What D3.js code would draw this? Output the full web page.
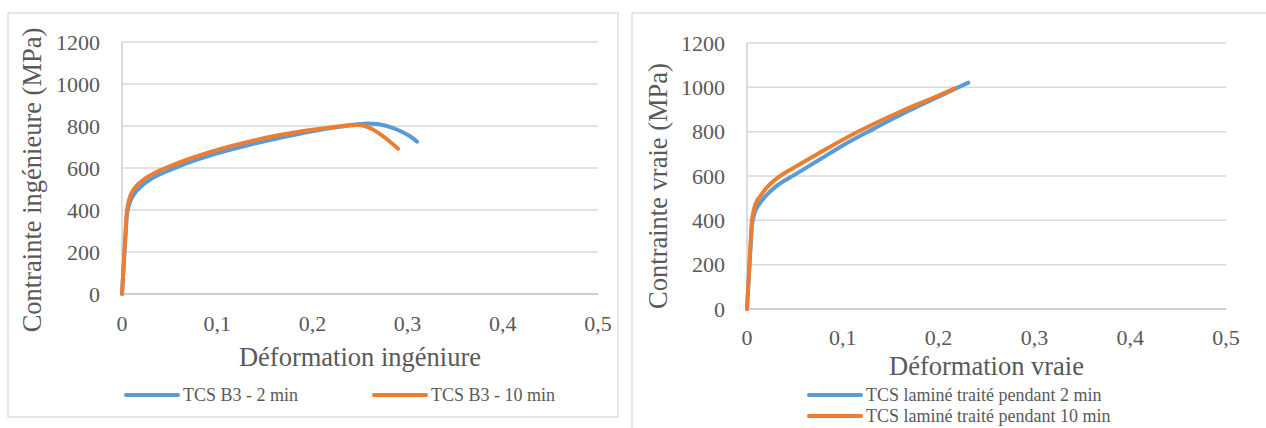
<!DOCTYPE html>
<html><head><meta charset="utf-8">
<script src="https://cdn.jsdelivr.net/npm/d3@7"></script>
<style>
html,body{margin:0;padding:0;background:#fff;}
svg{display:block;}
svg text{font-family:"Liberation Serif","Times New Roman",serif;}
</style></head>
<body>
<svg id="c" width="1266" height="428"></svg>
<script>
// ---- Data ----
const xTicks = [0, 0.1, 0.2, 0.3, 0.4, 0.5];
const yTicks = [0, 200, 400, 600, 800, 1000, 1200];

// Left chart: engineering stress-strain
const engStrain2 = [0, 0.002, 0.004, 0.005, 0.0065, 0.009, 0.0135, 0.02, 0.03, 0.04, 0.05, 0.075, 0.1, 0.13, 0.16, 0.2, 0.23, 0.25, 0.258, 0.27, 0.285, 0.295, 0.303, 0.31];
const engStress2 = [0, 150, 300, 370, 410, 445, 480, 512, 546, 570, 590, 634, 670, 706, 738, 775, 797, 809, 812, 808, 790, 770, 750, 725];
const engStrain10 = [0, 0.002, 0.004, 0.005, 0.0065, 0.009, 0.0135, 0.02, 0.03, 0.04, 0.05, 0.075, 0.1, 0.13, 0.16, 0.2, 0.23, 0.247, 0.255, 0.263, 0.27, 0.278, 0.285, 0.29];
const engStress10 = [0, 160, 320, 385, 430, 470, 505, 535, 566, 589, 608, 650, 686, 722, 752, 782, 799, 805, 800, 785, 765, 738, 712, 692];

// Right chart: true stress-strain
const trueStrain2 = [0, 0.002, 0.004, 0.005, 0.0065, 0.009, 0.0135, 0.02, 0.03, 0.05, 0.075, 0.1, 0.13, 0.16, 0.2, 0.231];
const trueStress2 = [0, 150, 300, 370, 410, 445, 478, 512, 552, 606, 672, 738, 808, 875, 958, 1021];
const trueStrain10 = [0, 0.002, 0.004, 0.005, 0.0065, 0.009, 0.0135, 0.02, 0.03, 0.05, 0.075, 0.1, 0.13, 0.16, 0.2, 0.217];
const trueStress10 = [0, 160, 320, 390, 435, 475, 507, 545, 585, 640, 703, 764, 830, 890, 963, 995];

const legendLeft = ["TCS B3 - 2 min", "TCS B3 - 10 min"];
const legendRight = ["TCS laminé traité pendant 2 min", "TCS laminé traité pendant 10 min"];
const colors = ["#5B9BD5", "#ED7D31"];

const FONT = "'Liberation Serif','Times New Roman',serif";
const svg = d3.select("#c");
const fmt = d => d === 0 ? "0" : String(d).replace(".", ",");

function chart(cfg) {
  const g = svg.append("g").attr("font-family", FONT);
  // border
  g.append("rect").attr("x", cfg.box[0]).attr("y", cfg.box[1])
    .attr("width", cfg.box[2]).attr("height", cfg.box[3])
    .attr("fill", "none").attr("stroke", "#D9D9D9").attr("stroke-width", 1.3);
  const x = d3.scaleLinear().domain([0, 0.5]).range([cfg.left, cfg.right]);
  const y = d3.scaleLinear().domain([0, 1200]).range([cfg.bottom, cfg.top]);
  // gridlines
  g.append("g").selectAll("line").data(yTicks.filter(d => d > 0)).join("line")
    .attr("x1", cfg.left).attr("x2", cfg.right)
    .attr("y1", d => y(d)).attr("y2", d => y(d))
    .attr("stroke", "#D9D9D9").attr("stroke-width", 1.5);
  // axes lines
  g.append("line").attr("x1", cfg.left).attr("x2", cfg.right)
    .attr("y1", y(0)).attr("y2", y(0)).attr("stroke", "#BFBFBF").attr("stroke-width", 1.5);
  g.append("line").attr("x1", cfg.left).attr("x2", cfg.left)
    .attr("y1", y(0)).attr("y2", y(1200)).attr("stroke", "#D0D0D0").attr("stroke-width", 1.5);
  // y tick labels
  g.append("g").selectAll("text").data(yTicks).join("text")
    .attr("font-family", FONT)
    .attr("x", cfg.left - 22).attr("y", d => y(d) + 7.5)
    .attr("text-anchor", "end").attr("font-size", 22).attr("fill", "#595959")
    .text(d => d);
  // x tick labels
  g.append("g").selectAll("text").data(xTicks).join("text")
    .attr("font-family", FONT)
    .attr("x", d => x(d)).attr("y", cfg.xTickY + 7.5)
    .attr("text-anchor", "middle").attr("font-size", 22).attr("fill", "#595959")
    .text(fmt);
  // titles
  g.append("text").attr("font-family", FONT)
    .attr("x", (cfg.left + cfg.right) / 2).attr("y", cfg.xTitleY + 9)
    .attr("text-anchor", "middle").attr("font-size", 26.5).attr("fill", "#595959")
    .text(cfg.xTitle);
  g.append("text").attr("font-family", FONT)
    .attr("transform", `translate(${cfg.yTitleX + 9},${cfg.yTitleY}) rotate(-90)`)
    .attr("text-anchor", "middle").attr("font-size", 26.5).attr("fill", "#595959")
    .text(cfg.yTitle);
  // curves
  const line = d3.line().x(d => x(d[0])).y(d => y(d[1])).curve(d3.curveMonotoneX);
  cfg.series.forEach((s, i) => {
    const pts = s[0].map((v, k) => [v, s[1][k]]);
    g.append("path").datum(pts).attr("d", line)
      .attr("fill", "none").attr("stroke", colors[i]).attr("stroke-width", 4)
      .attr("stroke-linecap", "round").attr("stroke-linejoin", "round");
  });
  // legend
  cfg.legend.forEach((lab, i) => {
    const L = cfg.legendPos[i];
    g.append("line").attr("x1", L[0]).attr("x2", L[0] + 52).attr("y1", L[1]).attr("y2", L[1])
      .attr("stroke", colors[i]).attr("stroke-width", 4).attr("stroke-linecap", "round");
    g.append("text").attr("font-family", FONT)
      .attr("x", L[0] + 57).attr("y", L[1] + 6)
      .attr("font-size", 18).attr("fill", "#595959").text(lab);
  });
}

chart({
  box: [8, 13, 610, 404],
  left: 122, right: 598, top: 42, bottom: 294,
  xTickY: 323, xTitleY: 357, yTitleX: 32, yTitleY: 180,
  xTitle: "Déformation ingéniure", yTitle: "Contrainte ingénieure (MPa)",
  series: [[engStrain2, engStress2], [engStrain10, engStress10]],
  legend: legendLeft, legendPos: [[126, 395], [374, 395]]
});

chart({
  box: [632, 13, 650, 440],
  left: 747, right: 1226, top: 43, bottom: 309,
  xTickY: 337, xTitleY: 366, yTitleX: 658, yTitleY: 186,
  xTitle: "Déformation vraie", yTitle: "Contrainte vraie (MPa)",
  series: [[trueStrain2, trueStress2], [trueStrain10, trueStress10]],
  legend: legendRight, legendPos: [[809, 395], [809, 416]]
});
</script>
</body></html>
